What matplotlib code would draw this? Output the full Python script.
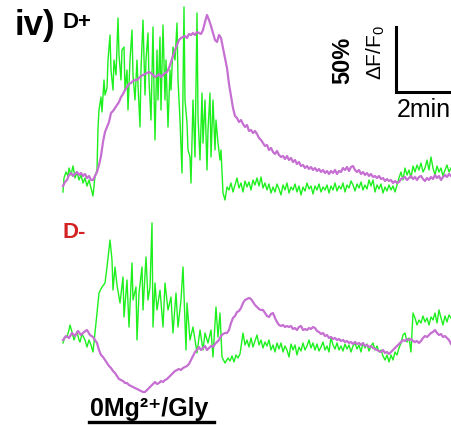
import numpy as np
import matplotlib
matplotlib.use("Agg")
import matplotlib.pyplot as plt

# traces, (time, signal) in the figure's own pixel frame
# (time grows to the right, signal is measured downwards like the image)
top_green = [
    (63, 192), (64, 178), (66, 172), (68, 176), (69, 168), (71, 175), (73, 166), (75, 178),
    (77, 172), (79, 180), (81, 175), (83, 183), (85, 178), (87, 186), (89, 180), (91, 188),
    (93, 196), (95, 176), (97, 170), (98, 128), (99, 110), (101, 97), (102, 112), (104, 80),
    (105, 95), (107, 88), (108, 60), (110, 35), (111, 70), (113, 90), (114, 60), (116, 75),
    (118, 18), (119, 55), (121, 80), (122, 50), (124, 47), (125, 90), (127, 70), (128, 110),
    (130, 60), (132, 30), (133, 75), (135, 100), (137, 60), (138, 85), (140, 127), (141, 70),
    (143, 20), (145, 95), (146, 60), (148, 33), (149, 80), (151, 120), (153, 27), (154, 90),
    (155, 140), (157, 50), (158, 100), (160, 37), (161, 110), (163, 25), (165, 100), (166, 60),
    (168, 127), (170, 70), (171, 90), (173, 47), (175, 60), (177, 23), (178, 80), (180, 120),
    (182, 173), (184, 7), (185, 100), (187, 123), (188, 150), (190, 157), (191, 183), (193, 100),
    (195, 157), (197, 13), (198, 117), (200, 160), (202, 93), (203, 143), (205, 100), (207, 170),
    (208, 130), (210, 93), (211, 157), (213, 100), (215, 150), (216, 120), (218, 143), (220, 160),
    (221, 150), (223, 193), (225, 200), (227, 187), (229, 190), (231, 183), (233, 192), (235, 185),
    (237, 178), (239, 188), (241, 183), (243, 192), (245, 181), (247, 187), (249, 182), (251, 190),
    (253, 180), (255, 185), (257, 178), (259, 186), (261, 177), (263, 188), (265, 183), (267, 190),
    (269, 184), (271, 193), (273, 187), (275, 192), (277, 184), (279, 189), (281, 195), (283, 185),
    (285, 190), (287, 183), (289, 193), (291, 187), (293, 190), (295, 184), (297, 192), (299, 186),
    (301, 195), (303, 187), (305, 191), (307, 183), (309, 189), (311, 186), (313, 194), (315, 186),
    (317, 190), (319, 184), (321, 192), (323, 187), (325, 190), (327, 185), (329, 193), (331, 186),
    (333, 190), (335, 183), (337, 191), (339, 186), (341, 189), (343, 183), (345, 192), (347, 185),
    (349, 188), (351, 181), (353, 185), (355, 191), (357, 184), (359, 188), (361, 182), (363, 190),
    (365, 185), (367, 189), (369, 180), (371, 186), (373, 180), (375, 192), (377, 185), (379, 189),
    (381, 184), (383, 193), (385, 187), (387, 191), (389, 185), (391, 190), (393, 186), (395, 192),
    (397, 185), (399, 178), (401, 172), (403, 180), (405, 168), (407, 175), (409, 170), (411, 178),
    (413, 166), (415, 172), (417, 165), (419, 170), (421, 163), (423, 172), (425, 168), (427, 160),
    (429, 170), (431, 157), (433, 168), (435, 175), (437, 166), (439, 172), (441, 168), (443, 176),
    (445, 170), (447, 165), (449, 172), (451, 168),
]

top_magenta = [
    (63, 186), (65, 182), (67, 180), (69, 175), (71, 173), (73, 176), (75, 174), (77, 172),
    (79, 175), (81, 173), (83, 176), (85, 174), (87, 178), (89, 176), (91, 180), (93, 180),
    (95, 176), (97, 172), (99, 165), (101, 156), (103, 142), (105, 132), (107, 127), (109, 122),
    (111, 113), (113, 111), (115, 108), (117, 105), (119, 102), (121, 97), (123, 94), (125, 90),
    (127, 87), (129, 84), (131, 83), (133, 81), (135, 80), (137, 80), (139, 78), (141, 76),
    (143, 75), (145, 74), (147, 73), (149, 72), (151, 73), (153, 75), (155, 77), (157, 76),
    (159, 74), (161, 77), (163, 75), (165, 73), (167, 72), (169, 68), (171, 62), (173, 56),
    (175, 50), (177, 45), (179, 40), (181, 38), (183, 37), (185, 36), (187, 38), (189, 34),
    (191, 35), (193, 33), (195, 35), (197, 32), (199, 33), (201, 34), (203, 30), (205, 22),
    (207, 15), (209, 20), (211, 26), (213, 33), (215, 40), (217, 42), (219, 35), (221, 38),
    (223, 48), (225, 58), (227, 68), (229, 84), (231, 96), (233, 108), (235, 116), (237, 118),
    (239, 122), (241, 120), (243, 124), (245, 127), (247, 125), (249, 131), (251, 130), (253, 133),
    (255, 131), (257, 134), (259, 138), (261, 140), (263, 143), (265, 146), (267, 145), (269, 150),
    (271, 148), (273, 152), (275, 154), (277, 151), (279, 155), (281, 157), (283, 156), (285, 159),
    (287, 156), (289, 160), (291, 158), (293, 162), (295, 160), (297, 164), (299, 162), (301, 166),
    (303, 165), (305, 168), (307, 166), (309, 169), (311, 167), (313, 170), (315, 168), (317, 171),
    (319, 169), (321, 172), (323, 170), (325, 173), (327, 171), (329, 174), (331, 171), (333, 173),
    (335, 170), (337, 174), (339, 171), (341, 172), (343, 168), (345, 170), (347, 167), (349, 171),
    (351, 167), (353, 166), (355, 170), (357, 172), (359, 170), (361, 174), (363, 172), (365, 175),
    (367, 173), (369, 176), (371, 174), (373, 177), (375, 176), (377, 178), (379, 176), (381, 179),
    (383, 178), (385, 181), (387, 179), (389, 181), (391, 180), (393, 183), (395, 181), (397, 183),
    (399, 182), (401, 179), (403, 178), (405, 177), (407, 180), (409, 178), (411, 176), (413, 179),
    (415, 177), (417, 180), (419, 177), (421, 176), (423, 179), (425, 181), (427, 178), (429, 180),
    (431, 177), (433, 179), (435, 175), (437, 178), (439, 176), (441, 180), (443, 177), (445, 175),
    (447, 177), (449, 174), (451, 176),
]

bottom_green = [
    (63, 343), (65, 337), (67, 337), (69, 330), (70, 325), (72, 332), (74, 340), (75, 337),
    (77, 332), (79, 340), (80, 342), (82, 334), (84, 338), (85, 340), (87, 347), (89, 340),
    (91, 345), (93, 352), (95, 333), (97, 313), (99, 293), (102, 287), (105, 283), (107, 267),
    (110, 240), (112, 260), (113, 290), (115, 267), (117, 285), (120, 303), (123, 277), (124, 317),
    (127, 280), (129, 327), (132, 263), (133, 300), (136, 287), (137, 340), (139, 293), (142, 267),
    (143, 310), (146, 257), (148, 300), (150, 287), (152, 223), (153, 327), (155, 283), (157, 310),
    (160, 290), (163, 327), (165, 283), (168, 310), (171, 297), (173, 333), (176, 293), (178, 327),
    (181, 300), (183, 267), (186, 350), (187, 303), (190, 340), (193, 327), (197, 353), (200, 330),
    (203, 350), (205, 333), (208, 343), (211, 330), (213, 357), (216, 307), (218, 337), (220, 313),
    (222, 357), (225, 363), (228, 358), (230, 361), (232, 356), (234, 362), (236, 355), (238, 358),
    (240, 354), (242, 340), (243, 333), (245, 345), (247, 340), (249, 347), (251, 338), (253, 347),
    (255, 341), (257, 335), (259, 345), (261, 340), (263, 348), (265, 342), (267, 346), (269, 340),
    (271, 350), (273, 345), (275, 352), (277, 343), (279, 349), (281, 343), (283, 352), (285, 346),
    (287, 350), (289, 357), (291, 344), (293, 350), (295, 345), (297, 355), (299, 347), (301, 351),
    (303, 343), (305, 350), (307, 346), (309, 340), (311, 348), (313, 343), (315, 350), (317, 344),
    (319, 351), (321, 347), (323, 342), (325, 350), (327, 346), (329, 352), (331, 337), (333, 345),
    (335, 349), (337, 343), (339, 350), (341, 346), (343, 351), (345, 344), (347, 349), (349, 345),
    (351, 352), (353, 346), (355, 343), (357, 349), (359, 345), (361, 352), (363, 343), (365, 348),
    (367, 344), (369, 351), (371, 346), (373, 343), (375, 350), (377, 346), (379, 352), (381, 350),
    (383, 356), (385, 360), (387, 355), (389, 362), (391, 355), (393, 360), (395, 352), (397, 355),
    (399, 348), (401, 343), (403, 335), (405, 333), (407, 342), (409, 338), (411, 352), (413, 313),
    (415, 318), (417, 325), (419, 320), (421, 323), (423, 316), (425, 322), (427, 318), (429, 325),
    (431, 317), (433, 320), (435, 313), (437, 323), (439, 310), (441, 318), (443, 325), (445, 316),
    (447, 322), (449, 315), (451, 318),
]

bottom_magenta = [
    (63, 340), (66, 336), (69, 338), (72, 333), (75, 336), (78, 331), (81, 335), (84, 332),
    (87, 330), (90, 335), (93, 337), (95, 340), (97, 343), (99, 350), (101, 355), (103, 357),
    (105, 360), (107, 363), (109, 366), (111, 368), (113, 371), (115, 373), (117, 376), (119, 379),
    (121, 380), (123, 381), (125, 383), (127, 383), (129, 385), (131, 386), (133, 387), (135, 388),
    (137, 389), (139, 390), (141, 391), (143, 392), (145, 392), (147, 390), (149, 388), (151, 386),
    (153, 384), (155, 382), (157, 384), (159, 383), (161, 381), (163, 382), (165, 380), (167, 379),
    (169, 377), (171, 375), (173, 373), (175, 371), (177, 370), (179, 369), (181, 370), (183, 368),
    (185, 367), (187, 366), (189, 364), (191, 360), (193, 356), (195, 352), (197, 350), (199, 347),
    (201, 350), (203, 348), (205, 346), (207, 350), (209, 348), (211, 346), (213, 347), (215, 344),
    (217, 342), (219, 340), (221, 336), (223, 334), (225, 333), (227, 333), (229, 330), (231, 323),
    (233, 318), (235, 316), (237, 312), (239, 311), (241, 308), (243, 303), (245, 300), (247, 299),
    (249, 298), (251, 299), (253, 302), (255, 305), (257, 307), (259, 309), (261, 310), (263, 310),
    (265, 313), (267, 316), (269, 317), (271, 314), (273, 313), (275, 318), (277, 322), (279, 325),
    (281, 326), (283, 325), (285, 327), (287, 326), (289, 327), (291, 326), (293, 329), (295, 328),
    (297, 330), (299, 327), (301, 326), (303, 330), (305, 329), (307, 330), (309, 328), (311, 329),
    (313, 327), (315, 328), (317, 331), (319, 332), (321, 334), (323, 333), (325, 336), (327, 335),
    (329, 338), (331, 337), (333, 339), (335, 338), (337, 340), (339, 339), (341, 341), (343, 340),
    (345, 342), (347, 341), (349, 343), (351, 342), (353, 344), (355, 342), (357, 344), (359, 343),
    (361, 345), (363, 343), (365, 346), (367, 345), (369, 347), (371, 346), (373, 348), (375, 349),
    (377, 350), (379, 351), (381, 352), (383, 350), (385, 353), (387, 352), (389, 354), (391, 352),
    (393, 350), (395, 348), (397, 346), (399, 344), (401, 342), (403, 340), (405, 341), (407, 339),
    (409, 340), (411, 339), (413, 341), (415, 342), (417, 341), (419, 343), (421, 341), (423, 338),
    (425, 336), (427, 337), (429, 335), (431, 333), (433, 332), (435, 330), (437, 333), (439, 335),
    (441, 334), (443, 337), (445, 336), (447, 338), (449, 340), (451, 344),
]

# scale bar (50 % dF/F0 vertical, 2 min horizontal) and drug bar
scale_x = [396, 396, 449]
scale_y = [27, 92, 92]
drug_x = [89, 214]
drug_y = [422, 422]

GREEN = "#1ef01e"
MAGENTA = "#c66fd2"

plt.rcParams["font.family"] = ["Liberation Sans", "DejaVu Sans"]
plt.rcParams["mathtext.fontset"] = "custom"
plt.rcParams["mathtext.rm"] = "Liberation Sans"
plt.rcParams["mathtext.it"] = "Liberation Sans:italic"
plt.rcParams["mathtext.bf"] = "Liberation Sans:bold"

fig = plt.figure(figsize=(4.52, 4.25), dpi=100)
ax = fig.add_axes([0, 0, 1, 1])
ax.set_xlim(0, 452)
ax.set_ylim(425, 0)
ax.axis("off")

for trace in (top_green, bottom_green):
    t, v = np.array(trace).T
    ax.plot(t, v, color=GREEN, lw=1.0, solid_joinstyle="round")
for trace in (top_magenta, bottom_magenta):
    t, v = np.array(trace).T
    ax.plot(t, v, color=MAGENTA, lw=1.6, solid_joinstyle="round")

ax.plot(scale_x, scale_y, color="black", lw=2.2, solid_joinstyle="miter")
ax.plot(drug_x, drug_y, color="black", lw=2.4)

# labels
ax.text(15, 35, "iv)", fontsize=25, fontweight="bold", ha="left", va="baseline")
ax.text(63, 28, "D+", fontsize=16, fontweight="bold", ha="left", va="baseline")
ax.text(63, 238, "D-", fontsize=16, fontweight="bold", color="#d42222", ha="left", va="baseline")
ax.text(343, 60, "50%", fontsize=17, fontweight="bold", rotation=90, ha="center", va="center")
ax.text(376, 52, "\u0394F/F$_0$", fontsize=15, rotation=90, ha="center", va="center")
ax.text(397, 117, "2min", fontsize=18, ha="left", va="baseline")
ax.text(149, 416, "0Mg\u00b2\u207a/Gly", fontsize=18, fontweight="bold", ha="center", va="baseline")

fig.savefig("out.png", dpi=100)
